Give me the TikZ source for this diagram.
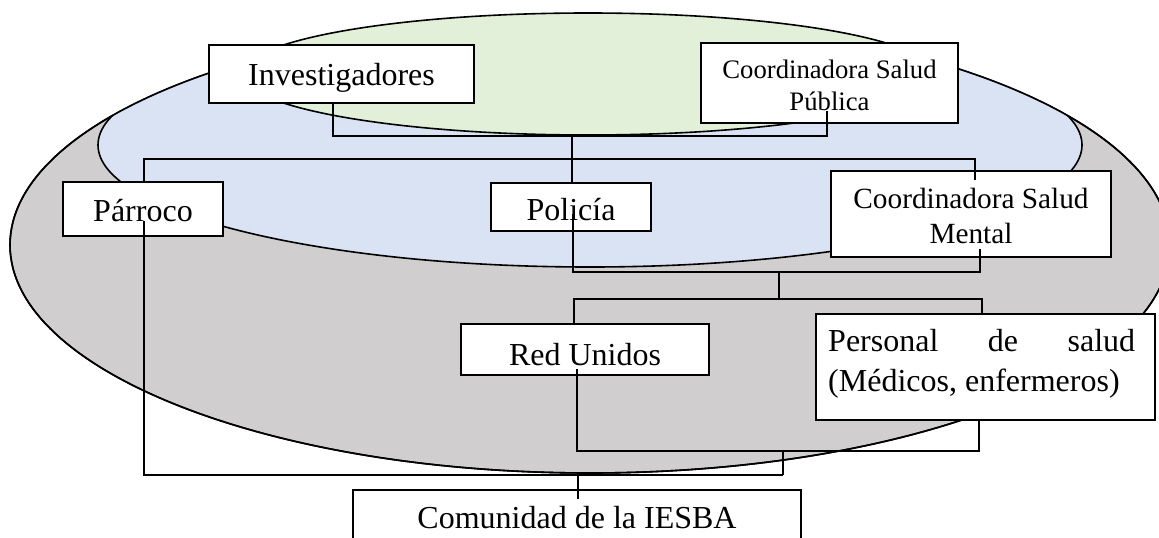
\documentclass[tikz,border=0pt]{standalone}
\usepackage{fontspec}
\setmainfont{Liberation Serif}
\definecolor{grayfill}{HTML}{D0CECE}
\definecolor{bluefill}{HTML}{DAE3F3}
\definecolor{greenfill}{HTML}{E2F0D9}
\begin{document}
\begin{tikzpicture}[x=1pt,y=-1pt,
  box/.style={draw=black, line width=2pt, fill=white, inner sep=0pt, rectangle},
  conn/.style={draw=black, line width=1.3pt},
  oval/.style={draw=black, line width=1.6pt},
  txt/.style={inner sep=0pt, anchor=base, font=\fontsize{32}{38}\selectfont},
  txtm/.style={txt, font=\fontsize{29.3}{35}\selectfont},
  txts/.style={txt, font=\fontsize{26.7}{32}\selectfont}]
\useasboundingbox (0,0) rectangle (1159,538);
\fill[white] (0,0) rectangle (1159,538);
% ellipses
\draw[oval, fill=grayfill] (590,245) ellipse [x radius=580pt, y radius=228pt];
\begin{scope}
  \clip (590,245) ellipse [x radius=580pt, y radius=228pt];
  \draw[oval, fill=bluefill] (590,145) ellipse [x radius=492pt, y radius=122pt];
\end{scope}
\draw[oval] (590,245) ellipse [x radius=580pt, y radius=228pt];
\draw[oval, fill=greenfill] (588,74) ellipse [x radius=346pt, y radius=61pt];
% boxes
\node[box, minimum width=265pt, minimum height=58pt] (inv) at (341.5,74) {};
\node[box, minimum width=257pt, minimum height=80pt] (pub) at (829.5,83) {};
\node[box, minimum width=160pt, minimum height=54pt] (par) at (143,209) {};
\node[box, minimum width=160pt, minimum height=48pt] (pol) at (571,207) {};
\node[box, minimum width=280pt, minimum height=86pt] (men) at (971,214) {};
\node[box, minimum width=248pt, minimum height=51pt] (red) at (585,349.5) {};
\node[box, minimum width=339pt, minimum height=106pt] (per) at (985.5,367) {};
\node[box, minimum width=448pt, minimum height=70pt] (com) at (577,525) {};
% texts
\node[txt] (invT) at (341.5,85) {Investigadores};
\node[txts] (pubA) at (829.5,78) {Coordinadora Salud};
\node[txts] (pubB) at (829.5,110) {Pública};
\node[txt] (parT) at (143,221) {Párroco};
\node[txt] (polT) at (571,220) {Policía};
\node[txtm] (menA) at (971,208) {Coordinadora Salud};
\node[txtm] (menB) at (971,243) {Mental};
\node[txt] (redT) at (585,365) {Red Unidos};
\node[txt, anchor=base west] (perA) at (828,351) {\makebox[307pt][l]{Personal\hfill de\hfill salud}};
\node[txt, anchor=base west] (perB) at (828,391) {(Médicos, enfermeros)};
\node[txt] (comT) at (577,528) {Comunidad de la IESBA};
% junction coordinates
\coordinate (t1) at (333,136);
\coordinate (t2) at (827,136);
\coordinate (t3) at (572,136);
\coordinate (b1) at (144,159);
\coordinate (b2) at (975,159);
\coordinate (c1) at (573,272);
\coordinate (c2) at (980,272);
\coordinate (c3) at (779,272);
\coordinate (d0) at (779,299);
\coordinate (d1) at (574,299);
\coordinate (d2) at (982,299);
\coordinate (e1) at (577,451);
\coordinate (e2) at (979,451);
\coordinate (e3) at (783,451);
\coordinate (f0) at (783,475);
\coordinate (f1) at (144,475);
\coordinate (f2) at (578,475);
% connectors
\draw[conn] (inv.south -| t1) -- (t1) -- (t2) -- ([yshift=13pt]pub.south -| t2);
\draw[conn] (t3) -- (pol.north -| t3);
\draw[conn] (par.north -| b1) -- (b1) -- (b2) -- ([yshift=-10pt]men.north -| b2);
\draw[conn] ([yshift=18pt]pol.south -| c1) -- (c1) -- (c2) -- ([yshift=9pt]men.south -| c2);
\draw[conn] (c3) -- (d0);
\draw[conn] (red.north -| d1) -- (d1) -- (d2) -- (per.north -| d2);
\draw[conn] ([yshift=7pt]red.south -| e1) -- (e1) -- (e2) -- (per.south -| e2);
\draw[conn] (e3) -- (f0);
\draw[conn] ([yshift=16pt]par.south -| f1) -- (f1) -- (f0);
\draw[conn] (f2) -- ([yshift=-10pt]com.north -| f2);
\end{tikzpicture}
\end{document}
